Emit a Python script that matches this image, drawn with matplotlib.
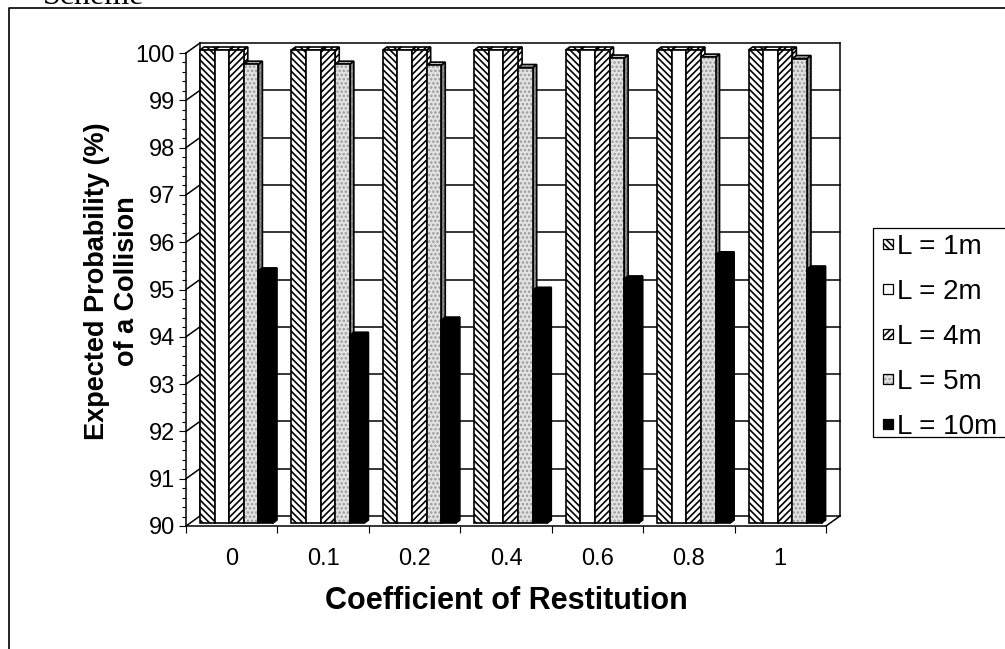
import numpy as np
import matplotlib
matplotlib.use("Agg")
import matplotlib.pyplot as plt
from matplotlib.patches import Rectangle, Polygon
from matplotlib.lines import Line2D

# --- data ---
categories = ["0", "0.1", "0.2", "0.4", "0.6", "0.8", "1"]
series_names = ["L = 1m", "L = 2m", "L = 4m", "L = 5m", "L = 10m"]
l_1m = [100, 100, 100, 100, 100, 100, 100]
l_2m = [100, 100, 100, 100, 100, 100, 100]
l_4m = [100, 100, 100, 100, 100, 100, 100]
l_5m = [99.70, 99.70, 99.68, 99.63, 99.83, 99.85, 99.82]
l_10m = [95.33, 93.97, 94.29, 94.92, 95.16, 95.67, 95.37]
series = [l_1m, l_2m, l_4m, l_5m, l_10m]
y_ticks = list(range(90, 101))

W, H = 1005, 649
plt.rcParams["font.family"] = ["Liberation Sans", "DejaVu Sans"]
plt.rcParams["hatch.linewidth"] = 1.2

# face, hatch, hatch colour, side colour, top colour
styles = [
    ("white", "\\" * 5, "black", "white", "white"),
    ("white", None, "black", "white", "white"),
    ("white", "/" * 5, "black", "white", "white"),
    ("#e2e2e2", "....", "#9a9a9a", "#7f7f7f", "#c4c4c4"),
    ("black", None, "black", "black", "black"),
]

fig = plt.figure(figsize=(W / 100, H / 100), dpi=100)
ax = fig.add_axes([186 / W, 1 - 526 / H, 640 / W, 473 / H])
n = len(categories)
ax.set_xlim(0, n)
ax.set_ylim(y_ticks[0], y_ticks[-1])
ax.patch.set_alpha(0)
ux = n / 640.0                                 # data units per pixel
uy = (y_ticks[-1] - y_ticks[0]) / 473.0

# back wall + side wall (fake 3d)
wx, wy = 14 * ux, 10 * uy
for v in y_ticks:
    ax.plot([wx, n + wx], [v + wy, v + wy], color="black", lw=1.1, zorder=1, clip_on=False)
    ax.plot([0, wx], [v, v + wy], color="black", lw=1.1, zorder=1, clip_on=False)
for xv in (wx, n + wx):
    ax.plot([xv, xv], [y_ticks[0] + wy, y_ticks[-1] + wy], color="black", lw=1.1, zorder=1, clip_on=False)
ax.plot([n, n + wx], [y_ticks[0], y_ticks[0] + wy], color="black", lw=1.1, zorder=1, clip_on=False)


def face(verts, fc, hatch, hc, z):
    ax.add_patch(Polygon(verts, closed=True, facecolor=fc, edgecolor="none", lw=0, zorder=z, clip_on=False))
    if hatch:
        ax.add_patch(Polygon(verts, closed=True, facecolor="none", edgecolor=hc, hatch=hatch,
                             lw=0, zorder=z, clip_on=False))
    ax.add_patch(Polygon(verts, closed=True, facecolor="none", edgecolor="black", lw=1.2,
                         zorder=z, clip_on=False))


bw = 14.6 * ux
ddx, ddy = 4 * ux, 3 * uy
shift = 3 * uy
z = 3
for i in range(n):
    for j, vals in enumerate(series):
        fc, hatch, hc, sc, tc = styles[j]
        x0 = i + wx + j * bw
        x1 = x0 + bw
        lo = y_ticks[0] + shift
        hi = vals[i] + shift
        face([(x1, lo), (x1 + ddx, lo + ddy), (x1 + ddx, hi + ddy), (x1, hi)], sc, hatch, hc, z)
        face([(x0, hi), (x0 + ddx, hi + ddy), (x1 + ddx, hi + ddy), (x1, hi)], tc, hatch, hc, z)
        face([(x0, lo), (x1, lo), (x1, hi), (x0, hi)], fc, hatch, hc, z)
        z += 0.01

for s in ("top", "right"):
    ax.spines[s].set_visible(False)
for s in ("left", "bottom"):
    ax.spines[s].set_linewidth(1.1)

ax.set_yticks(y_ticks)
ax.set_yticks(np.arange(90, 100.01, 0.2), minor=True)
ax.tick_params(axis="y", which="major", length=5, width=0.8, labelsize=17, pad=3)
ax.tick_params(axis="y", which="minor", length=3, width=0.8)
ax.set_xticks(np.arange(n) + 0.5, categories)
ax.set_xticks(np.arange(n + 1), minor=True)
ax.tick_params(axis="x", which="major", length=0, pad=15.5, labelsize=17)
ax.tick_params(axis="x", which="minor", length=5, width=0.8)

# overlay in pixel coordinates for frame, labels, legend
ov = fig.add_axes([0, 0, 1, 1])
ov.set_xlim(0, W)
ov.set_ylim(H, 0)
ov.axis("off")
ov.patch.set_alpha(0)

ov.add_line(Line2D([9, 9, W], [H, 8, 8], color="black", lw=1.2))
ov.text(43, 4, "Scheme", family=["Liberation Serif", "DejaVu Serif"], fontsize=23,
        ha="left", va="baseline")

ov.text(112, 281, "Expected Probability (%)\nof a Collision", rotation=90, ha="center",
        va="center", fontsize=19.5, fontweight="bold", multialignment="center", linespacing=1.15)
ov.text(506, 601, "Coefficient of Restitution", ha="center", va="center", fontsize=22,
        fontweight="bold")

ov.add_patch(Rectangle((873, 228), 150, 209, facecolor="white", edgecolor="black", lw=0.9))
for k, name in enumerate(series_names):
    fc, hatch, hc, sc, tc = styles[k]
    yc = 244 + k * 45
    sq = (883, yc - 5)
    ov.add_patch(Rectangle(sq, 10, 10, facecolor=fc, edgecolor="none", lw=0))
    if hatch:
        ov.add_patch(Rectangle(sq, 10, 10, facecolor="none", edgecolor=hc, hatch=hatch, lw=0))
    ov.add_patch(Rectangle(sq, 10, 10, facecolor="none", edgecolor="black", lw=0.9))
    ov.text(897, yc, name, ha="left", va="center_baseline", fontsize=20)

fig.savefig("out.png", dpi=100)
